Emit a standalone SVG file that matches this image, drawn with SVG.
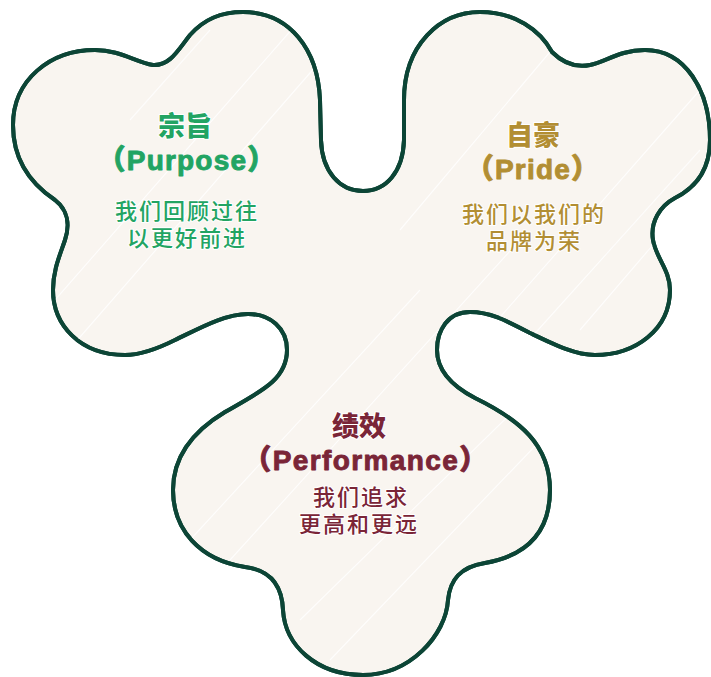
<svg xmlns="http://www.w3.org/2000/svg" width="711" height="677" viewBox="0 0 711 677">
<defs>
<style>
.outline{fill:#F9F5F0;stroke:#0C4536;stroke-width:4;stroke-linejoin:round}
.tex{stroke:#FFFFFF;stroke-width:1.2;opacity:0.8}
.t{font-family:"Liberation Sans","Noto Sans CJK SC",sans-serif;text-anchor:middle;paint-order:stroke;stroke:#FFFFFF;stroke-width:2;stroke-linejoin:round}
.h{font-size:27px;font-weight:900}
.s{font-size:22px;font-weight:500;letter-spacing:2px}
.en{font-size:28px;paint-order:normal;stroke-width:0.9}
.green{fill:#22A463}
.gold{fill:#B28E33}
.red{fill:#7A2537}
.green .en{stroke:#22A463}
.gold .en{stroke:#B28E33}
.red .en{stroke:#7A2537}
</style>
<clipPath id="clip">
<path id="blob" d="M243 12 C290 12 318 50 320 100 L321 140 C322 172 340 191 363 191 C386 191 403 172 404 140 L404 100 C404 45 440 12 480 12 C515 12 540 30 552 52 C562 62 575 68 590 65 C605 62 620 50 645 50 C685 50 710 90 710 140 C710 170 695 188 675 198 C660 206 650 222 653 240 C656 258 670 270 670 290 C670 330 635 355 595 355 C575 355 555 345 530 333 C505 320 490 312 470 312 C448 312 437 330 437 350 C437 370 450 385 475 398 C520 420 550 445 550 490 C550 530 530 555 485 563 C460 567 450 580 448 600 C446 635 410 675 363 675 C316 675 285 645 283 610 C282 585 270 570 245 567 C200 560 173 530 173 490 C173 455 195 430 225 412 C260 392 287 380 287 350 C287 328 270 314 248 314 C225 314 200 328 175 340 C155 350 140 355 125 355 C80 355 53 325 53 290 C53 270 60 255 65 240 C70 225 68 210 55 200 C25 180 13 155 13 125 C13 80 50 50 95 50 C120 50 135 62 153 65 C170 66 178 50 190 35 C205 18 222 12 243 12 Z"/>
</clipPath>
</defs>
<g id="shape">
<use href="#blob" class="outline"/>
<g clip-path="url(#clip)">
<line class="tex" x1="20" y1="340" x2="300" y2="20"/>
<line class="tex" x1="60" y1="360" x2="330" y2="50"/>
<line class="tex" x1="130" y1="120" x2="210" y2="30"/>
<line class="tex" x1="400" y1="230" x2="560" y2="40"/>
<line class="tex" x1="480" y1="340" x2="700" y2="90"/>
<line class="tex" x1="520" y1="350" x2="700" y2="150"/>
<line class="tex" x1="580" y1="330" x2="700" y2="190"/>
<line class="tex" x1="190" y1="540" x2="420" y2="290"/>
<line class="tex" x1="230" y1="560" x2="520" y2="240"/>
<line class="tex" x1="300" y1="620" x2="545" y2="380"/>
<line class="tex" x1="330" y1="660" x2="560" y2="420"/>
</g>
<use href="#blob" fill="none" stroke="#0C4536" stroke-width="4"/>
</g>
<g id="purpose">
<text class="t h green"><tspan x="185" y="136">宗旨</tspan><tspan class="en" x="187" y="170" letter-spacing="1.2">（Purpose）</tspan></text>
<text class="t s green"><tspan x="187" y="219">我们回顾过往</tspan><tspan x="187" y="246">以更好前进</tspan></text>
</g>
<g id="pride">
<text class="t h gold"><tspan x="533" y="145">自豪</tspan><tspan class="en" x="533" y="179" letter-spacing="1.2">（Pride）</tspan></text>
<text class="t s gold"><tspan x="534" y="222">我们以我们的</tspan><tspan x="534" y="249">品牌为荣</tspan></text>
</g>
<g id="performance">
<text class="t h red"><tspan x="359" y="436">绩效</tspan><tspan class="en" x="366" y="470" letter-spacing="1.4">（Performance）</tspan></text>
<text class="t s red"><tspan x="361" y="505">我们追求</tspan><tspan x="359" y="532">更高和更远</tspan></text>
</g>
</svg>
